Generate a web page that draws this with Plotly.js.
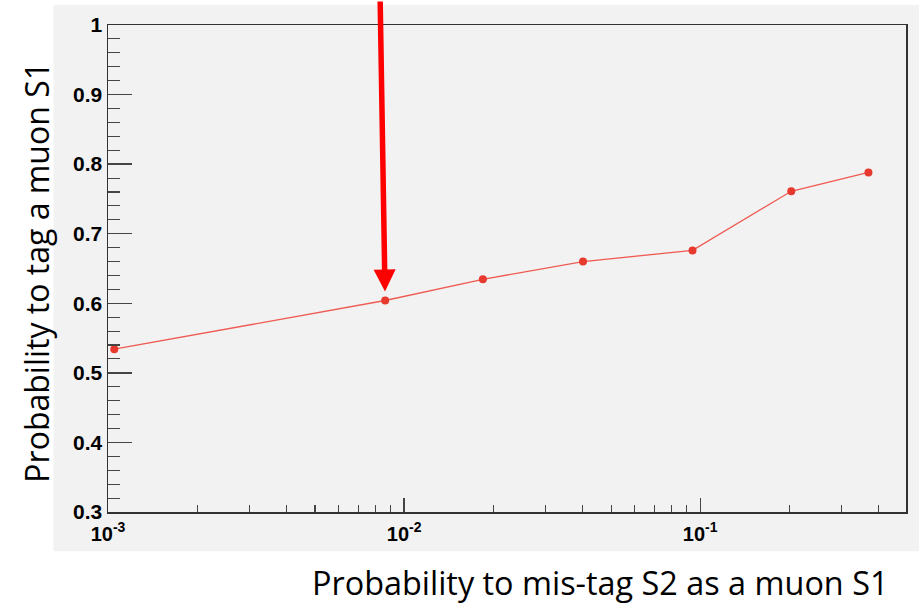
<!DOCTYPE html>
<html>
<head>
<meta charset="utf-8">
<script src="https://cdn.plot.ly/plotly-3.0.1.min.js"></script>
<style>html,body{margin:0;padding:0;background:#fff;}#chart{width:919px;height:603px;}</style>
</head>
<body>
<div id="chart"></div>
<script>
// Data
const misTagProb = [0.00105, 0.00863, 0.01845, 0.0402, 0.0942, 0.203, 0.370];
const tagProb    = [0.534, 0.604, 0.6345, 0.660, 0.676, 0.761, 0.788];
const yTickVals  = [0.3, 0.4, 0.5, 0.6, 0.7, 0.8, 0.9, 1.0];
const yTickText  = ["0.3", "0.4", "0.5", "0.6", "0.7", "0.8", "0.9", "1"];
const xTickVals  = [0.001, 0.01, 0.1];
const xTickText  = ["10<sup>-3</sup>", "10<sup>-2</sup>", "10<sup>-1</sup>"];
const arrowIndex = 1;

const xMinor = [];
[0.001, 0.01, 0.1].forEach(d => { for (let k = 2; k <= 9; k++) { const v = d * k; if (v < 0.5) xMinor.push(v); } });

const W = 919, H = 603;
const L = 107.5, R = 13, T = 25, B = 91.3;
const pw = W - L - R, ph = H - T - B;
const px = x => (x - L) / pw;
const py = y => (H - B - y) / ph;

const trace = {
  x: misTagProb, y: tagProb, type: 'scatter', mode: 'lines+markers',
  line: {color: '#ef5a52', width: 1.3},
  marker: {color: '#e8392f', size: 8},
  hoverinfo: 'skip', showlegend: false
};

const yTickFont = {family: 'Liberation Sans', size: 21, color: '#000', weight: 700};
const xTickFont = {family: 'Liberation Sans', size: 20, color: '#000', weight: 700};

const layout = {
  width: W, height: H,
  margin: {l: L, r: R, t: T, b: B, pad: 0},
  paper_bgcolor: '#ffffff',
  plot_bgcolor: '#f2f2f2',
  showlegend: false,
  font: {family: 'Liberation Sans', size: 20, color: '#000'},
  xaxis: {
    type: 'log', range: [-3, -0.305],
    tickmode: 'array', tickvals: xTickVals, ticktext: xTickText,
    ticks: 'inside', ticklen: 14, tickwidth: 1.3, tickcolor: '#444',
    minor: {tickmode: 'array', tickvals: xMinor, ticks: 'inside', ticklen: 7, tickwidth: 1.1, tickcolor: '#444'},
    showline: true, linecolor: '#333', linewidth: 1.5, mirror: true,
    showgrid: false, zeroline: false,
    tickfont: xTickFont, ticklabelstandoff: 3
  },
  yaxis: {
    range: [0.3, 1.0],
    tickmode: 'array', tickvals: yTickVals, ticktext: yTickText,
    ticks: 'inside', ticklen: 24, tickwidth: 1.3, tickcolor: '#444',
    minor: {dtick: 0.02, ticks: 'inside', ticklen: 12, tickwidth: 1.1, tickcolor: '#444'},
    showline: true, linecolor: '#333', linewidth: 1.5, mirror: true,
    showgrid: false, zeroline: false,
    tickfont: yTickFont
  },
  shapes: [{
    type: 'rect', xref: 'paper', yref: 'paper', layer: 'below',
    x0: px(53), x1: px(919), y0: py(551), y1: py(5),
    fillcolor: '#f2f2f2', line: {width: 0}
  }],
  annotations: [
    {
      x: Math.log10(misTagProb[arrowIndex]), y: tagProb[arrowIndex], xref: 'x', yref: 'y',
      ax: -5, ay: -310, axref: 'pixel', ayref: 'pixel',
      showarrow: true, arrowhead: 2, arrowsize: 0.8, arrowwidth: 5.5, arrowcolor: '#ff0000',
      standoff: 9, text: ''
    },
    {
      text: 'Probability to mis-tag S2 as a muon S1', xref: 'paper', yref: 'paper',
      x: px(890), y: py(582), xanchor: 'right', yanchor: 'middle', showarrow: false,
      font: {family: 'Open Sans', size: 32.4, color: '#000'}
    },
    {
      text: 'Probability to tag a muon S1', xref: 'paper', yref: 'paper',
      x: px(36), y: py(272), xanchor: 'center', yanchor: 'middle', textangle: -90, showarrow: false,
      font: {family: 'Open Sans', size: 32, color: '#000'}
    }
  ]
};

Plotly.newPlot('chart', [trace], layout, {displayModeBar: false, staticPlot: true});
</script>
</body>
</html>
